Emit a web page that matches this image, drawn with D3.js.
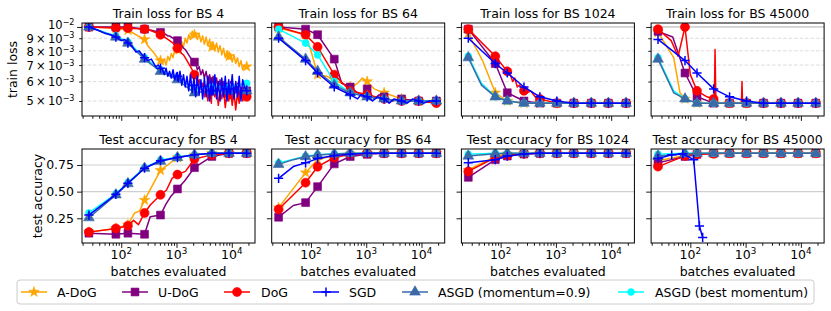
<!DOCTYPE html>
<html><head><meta charset="utf-8">
<script src="https://cdn.jsdelivr.net/npm/d3@7/dist/d3.min.js"></script>
<style>body{margin:0;background:#fff} svg{display:block} text{font-family:"DejaVu Sans",sans-serif;fill:#000}</style>
</head><body><svg id="c" width="831" height="311"></svg>
<script>
// ---------------- data ----------------
const batchSizes = ["4", "64", "1024", "45000"];
const methods = ["A-DoG", "U-DoG", "DoG", "SGD", "ASGD (momentum=0.9)", "ASGD (best momentum)"];
const colors = ["#FFA500", "#800080", "#FF0000", "#0000FF", "#3b6aa8", "#00FFFF"];
const markerTypes = ["star", "square", "circle", "plus", "triangle", "smallcircle"];
const xEval = [26, 80, 132, 264, 513, 1040, 2110, 4360, 8900, 18600];
const xTickVals = [100, 1000, 10000];
const lossTickVals = [0.01, 0.009, 0.008, 0.007, 0.006, 0.005];
const lossTickLabels = [["10", "\u22122"], ["9\u2009\u00d7\u200910", "\u22123"], ["8\u2009\u00d7\u200910", "\u22123"], ["7\u2009\u00d7\u200910", "\u22123"], ["6\u2009\u00d7\u200910", "\u22123"], ["5\u2009\u00d7\u200910", "\u22123"]];
const accTickVals = [0.25, 0.5, 0.75];
const accTickLabels = ["0.25", "0.50", "0.75"];

// train loss at xEval, rows: A-DoG, U-DoG, DoG, SGD, ASGD(0.9), ASGD(best)
const lossBS4 = [
  [.0100, .0099, .0097, .0089, .0073, .0081, .0093, .0083, .0076, .0069],
  [.0100, .0100, .0100, .0098, .0095, .0088, .0072, .0060, .0057, .0055],
  [.0100, .0099, .0099, .0098, .0093, .0082, .0064, .0055, .0053, .0052],
  [.0100, .0091, .0086, .0075, .0068, .0063, .0058, .0055, .0056, .0055],
  [.0100, .0091, .0086, .0074, .0066, .0061, .0054, .0055, .0055, .0055],
  [.0100, .0092, .0087, .0075, .0067, .0062, .0056, .0057, .0057, .0059]];
const lossBS64 = [
  [.0099, .0093, .0064, .0061, .0057, .0060, .0054, .0051, .0050, .0050],
  [.0100, .0098, .0093, .0074, .0057, .0056, .0052, .0051, .0050, .0050],
  [.0100, .0093, .0083, .0064, .0055, .0053, .0051, .0050, .0050, .0049],
  [.0090, .0073, .0065, .0057, .0053, .0052, .0051, .0050, .0050, .0050],
  [.0091, .0074, .0066, .0058, .0054, .0052, .0051, .0050, .0050, .0050],
  [.0098, .0086, .0077, .0060, .0054, .0052, .0051, .0050, .0050, .0050]];
const lossBS1024 = [
  [.0094, .0054, .0050, .0049, .0049, .0049, .0049, .0049, .0049, .0049],
  [.0098, .0071, .0054, .0050, .0049, .0049, .0049, .0049, .0049, .0049],
  [.0098, .0076, .0066, .0055, .0051, .0049, .0049, .0049, .0049, .0049],
  [.0090, .0071, .0065, .0057, .0052, .0050, .0049, .0049, .0049, .0049],
  [.0075, .0052, .0050, .0049, .0049, .0049, .0049, .0049, .0049, .0049],
  [.0076, .0052, .0050, .0049, .0049, .0049, .0049, .0049, .0049, .0049]];
const lossBS45000 = [
  [.0095, .0051, .0049, .0049, .0049, .0049, .0049, .0049, .0049, .0049],
  [.0096, .0065, .0052, .0049, .0049, .0049, .0049, .0049, .0049, .0049],
  [.0098, .0100, .0055, .0051, .0049, .0049, .0049, .0049, .0049, .0049],
  [.0089, .0073, .0065, .0056, .0052, .0050, .0049, .0049, .0049, .0049],
  [.0074, .0051, .0049, .0049, .0049, .0049, .0049, .0049, .0049, .0049],
  [.0075, .0051, .0049, .0049, .0049, .0049, .0049, .0049, .0049, .0049]];

// extra (unmarked) line points [x, y]
const lossExtraBS4 = [
  [[300, .0084], [380, .0079], [450, .0075]],
  [[350, .0097]],
  [[330, .0097], [420, .0095]],
  [[38, .0097], [52, .0094], [65, .0093], [100, .0088], [115, .0089], [160, .0083], [185, .0079], [210, .0080], [300, .0073], [350, .0074], [420, .0069], [470, .0070]],
  [], []];
const lossExtraBS64 = [
  [[100, .0080], [195, .0063], [700, .0059], [850, .0062], [1400, .0056], [1700, .0055]],
  [[360, .0059], [700, .0054], [850, .0052], [1400, .0051], [1700, .0053], [3000, .0050]],
  [],
  [[700, .0051], [800, .0053], [1300, .0050], [1600, .0052], [2600, .0049], [3200, .0051], [5500, .0049], [7000, .0051], [11000, .0049], [14000, .0050]],
  [], []];
const lossExtraBS1024 = [
  [[47, .0073], [61, .0063]],
  [],
  [[150, .0064], [165, .0060], [180, .0062], [200, .0057], [220, .0058], [300, .0054], [350, .0055], [420, .0052]],
  [],
  [[45, .0058]],
  [[45, .0059]]];
const lossExtraBS45000 = [
  [[50, .0075], [65, .0054]],
  [[48, .0091]],
  [[45, .0088], [60, .0076], [100, .0064], [200, .0052], [272, .0050], [280, .0081], [290, .0049], [840, .0049], [860, .0060], [880, .0049]],
  [],
  [[50, .0054]],
  [[50, .0055]]];

// dense noisy train-loss readings for BS 4 (A-DoG, U-DoG, DoG, SGD) on a log-spaced logging grid
const noiseGridStart = 560, noiseGridStep = 0.0315, noiseGridN = 48;
const noiseADoG4 = [.0071,.0074,.0070,.0076,.0073,.0078,.0075,.0081,.0078,.0084,.0080,.0087,.0083,.0090,.0086,.0093,.0089,.0096,.0091,.0095,.0089,.0094,.0087,.0092,.0085,.0091,.0084,.0089,.0081,.0087,.0080,.0086,.0079,.0084,.0077,.0082,.0075,.0080,.0074,.0078,.0072,.0077,.0071,.0075,.0069,.0073,.0067,.0070];
const noiseUDoG4 = [.0094,.0094,.0093,.0092,.0092,.0091,.0090,.0089,.0088,.0087,.0085,.0084,.0082,.0081,.0079,.0077,.0075,.0074,.0071,.0071,.0067,.0069,.0064,.0067,.0062,.0066,.0060,.0064,.0059,.0063,.0057,.0062,.0056,.0061,.0055,.0060,.0054,.0059,.0055,.0060,.0053,.0058,.0054,.0059,.0052,.0057,.0053,.0055];
const noiseDoG4 = [.0092,.0091,.0090,.0089,.0088,.0087,.0086,.0084,.0083,.0081,.0080,.0078,.0077,.0075,.0073,.0071,.0069,.0067,.0064,.0063,.0059,.0061,.0056,.0059,.0052,.0058,.0050,.0057,.0049,.0056,.0052,.0057,.0048,.0055,.0051,.0056,.0047,.0054,.0050,.0056,.0048,.0055,.0046,.0054,.0049,.0056,.0050,.0053];
const noiseSGD4 = [.0067,.0064,.0068,.0063,.0066,.0062,.0067,.0061,.0065,.0060,.0066,.0058,.0064,.0057,.0063,.0055,.0064,.0054,.0062,.0052,.0063,.0053,.0061,.0051,.0062,.0052,.0063,.0050,.0061,.0053,.0064,.0051,.0060,.0050,.0062,.0052,.0063,.0050,.0061,.0053,.0064,.0051,.0060,.0052,.0063,.0050,.0061,.0057];

// test accuracy at xEval
const accBS4 = [
  [.12, .155, .19, .42, .70, .82, .845, .86, .86, .86],
  [.11, .10, .11, .10, .28, .525, .725, .83, .86, .86],
  [.12, .155, .18, .30, .47, .66, .806, .845, .86, .86],
  [.28, .475, .578, .72, .79, .82, .845, .86, .86, .86],
  [.255, .47, .575, .72, .785, .82, .845, .86, .86, .86],
  [.30, .48, .585, .725, .795, .825, .845, .86, .86, .86]];
const accBS64 = [
  [.35, .678, .80, .84, .855, .86, .86, .86, .86, .86],
  [.26, .397, .547, .76, .83, .85, .86, .86, .86, .86],
  [.334, .584, .734, .82, .85, .86, .86, .86, .86, .86],
  [.625, .77, .81, .84, .85, .86, .86, .86, .86, .86],
  [.756, .828, .844, .853, .86, .86, .86, .86, .86, .86],
  [.77, .832, .846, .855, .86, .86, .86, .86, .86, .86]];
const accBS1024 = [
  [.703, .83, .855, .86, .86, .86, .86, .86, .86, .86],
  [.634, .80, .834, .853, .86, .86, .86, .86, .86, .86],
  [.69, .82, .84, .855, .86, .86, .86, .86, .86, .86],
  [.772, .80, .834, .853, .86, .86, .86, .86, .86, .86],
  [.834, .855, .86, .86, .86, .86, .86, .86, .86, .86],
  [.85, .86, .86, .86, .86, .86, .86, .86, .86, .86]];
const accBS45000 = [
  [.79, .84, .855, .86, .86, .86, .86, .86, .86, .86],
  [.77, .83, .85, .86, .86, .86, .86, .86, .86, .86],
  [.735, .835, .85, .855, .86, .86, .86, .86, .86, .86],
  null,
  [.834, .853, .86, .86, .86, .86, .86, .86, .86, .86],
  [.85, .86, .86, .86, .86, .86, .86, .86, .86, .86]];
const accSGD45000x = [26, 46, 73, 115, 146, 167];
const accSGD45000y = [.81, .845, .855, .80, .178, .07];

const accExtraBS4 = [
  [[175, .30], [215, .32]],
  [[334, .265], [640, .38], [800, .46], [1400, .60]],
  [[167, .23], [205, .19], [335, .375], [660, .515], [830, .625], [1450, .69]],
  [], [], []];
const accExtraBS64 = [[], [[48, .37]], [], [[48, .735]], [[48, .80]], []];
const accExtraBS1024 = [[], [], [], [], [], []];
const accExtraBS45000 = [[], [], [], [], [], []];

// ---------------- layout ----------------
const svg = d3.select("#c");
const defs = svg.append("defs");
const FS = 12.5;
const TFS = 11.5;
const panelW = 173;
const lefts = [82, 271.7, 461.4, 651.1];
const rowBox = [{top: 23, bot: 116}, {top: 149, bot: 243}];
const xDom = [Math.pow(10, 1.29), Math.pow(10, 4.42)];
const drawOrder = [0, 1, 2, 5, 4, 3];
const lossLabelDy = [2.4, 4.6, 5.2, 5.0, 4.6, 4.4];

const minorX = [];
[10, 100, 1000, 10000].forEach(d => { for (let k = 2; k <= 9; k++) { const v = k * d; if (v >= xDom[0] && v <= xDom[1]) minorX.push(v); } });

function markerPath(t) {
  switch (t) {
    case "star": return d3.symbol(d3.symbolStar, 34)();
    case "square": return d3.symbol(d3.symbolSquare, 62)();
    case "circle": return d3.symbol(d3.symbolCircle, 64)();
    case "triangle": return d3.symbol(d3.symbolTriangle, 50)();
    case "smallcircle": return d3.symbol(d3.symbolCircle, 38)();
    case "plus": return "M-4.6,0H4.6M0,-4.6V4.6";
  }
}
function drawMarker(g, t, color, px, py) {
  const p = g.append("path").attr("d", markerPath(t)).attr("transform", `translate(${px},${py})`);
  if (t === "plus") p.attr("fill", "none").attr("stroke", color).attr("stroke-width", 1.5);
  else p.attr("fill", color).attr("stroke", color).attr("stroke-width", 0.6);
}

function seriesFor(row, p, m) {
  const marks = row === 0 ? [lossBS4, lossBS64, lossBS1024, lossBS45000][p] : [accBS4, accBS64, accBS1024, accBS45000][p];
  const extras = row === 0 ? [lossExtraBS4, lossExtraBS64, lossExtraBS1024, lossExtraBS45000][p] : [accExtraBS4, accExtraBS64, accExtraBS1024, accExtraBS45000][p];
  if (row === 1 && p === 3 && m === 3) {
    const pts = accSGD45000x.map((x, i) => [x, accSGD45000y[i]]);
    return {line: pts, marks: pts};
  }
  const mk = xEval.map((x, i) => [x, marks[m][i]]);
  let pts = mk.concat(extras[m]);
  if (row === 0 && p === 0) {
    const noise = [noiseADoG4, noiseUDoG4, noiseDoG4, noiseSGD4, null, null][m];
    if (noise) {
      const grid = d3.range(noiseGridN).map(i => noiseGridStart * Math.pow(10, noiseGridStep * i));
      pts = pts.concat(noise.map((v, i) => [grid[i], v]));
    }
  }
  pts.sort((a, b) => a[0] - b[0]);
  return {line: pts, marks: mk};
}

function supLabel(g, x, y, anchor, base, sup, fs) {
  const t = g.append("text").attr("x", x).attr("y", y).attr("text-anchor", anchor).attr("font-size", fs);
  t.append("tspan").text(base);
  t.append("tspan").attr("dy", -fs * 0.38).attr("font-size", fs * 0.7).text(sup);
  return t;
}

[0, 1].forEach(row => {
  const {top, bot} = rowBox[row];
  batchSizes.forEach((bs, p) => {
    const L = lefts[p], R = L + panelW;
    const x = d3.scaleLog().domain(xDom).range([L, R]);
    const y = row === 0
      ? d3.scaleLog().domain([0.004345, 0.01038]).range([bot, top])
      : d3.scaleLinear().domain([0.018, 0.90]).range([bot, top]);
    const g = svg.append("g");

    // grid
    if (row === 0) {
      lossTickVals.forEach(v => {
        const major = v === 0.01;
        g.append("line").attr("x1", L).attr("x2", R).attr("y1", y(v)).attr("y2", y(v))
          .attr("stroke", major ? "#b0b0b0" : "#d8d8d8").attr("stroke-width", major ? 1 : 0.9)
          .attr("stroke-dasharray", major ? null : "3.5,2");
      });
    } else {
      accTickVals.forEach(v => {
        g.append("line").attr("x1", L).attr("x2", R).attr("y1", y(v)).attr("y2", y(v))
          .attr("stroke", "#cfcfcf").attr("stroke-width", 1.2);
      });
    }

    // data
    const cid = `clip${row}_${p}`;
    defs.append("clipPath").attr("id", cid).append("rect").attr("x", L).attr("y", top).attr("width", panelW).attr("height", bot - top);
    const dg = g.append("g").attr("clip-path", `url(#${cid})`);
    const lineGen = d3.line().x(d => x(d[0])).y(d => y(d[1]));
    drawOrder.forEach(m => {
      const s = seriesFor(row, p, m);
      dg.append("path").attr("d", lineGen(s.line)).attr("fill", "none").attr("stroke", colors[m])
        .attr("stroke-width", 1.5).attr("stroke-linejoin", "round");
      s.marks.forEach(d => drawMarker(dg, markerTypes[m], colors[m], x(d[0]), y(d[1])));
    });

    // x ticks
    const axMajor = d3.axisBottom(x).tickValues(xTickVals).tickSize(4.9).tickFormat(() => "");
    const axMinor = d3.axisBottom(x).tickValues(minorX).tickSize(2.8).tickFormat(() => "");
    [axMajor, axMinor].forEach(ax => {
      const a = g.append("g").attr("transform", `translate(0,${bot})`).call(ax);
      a.select(".domain").remove();
      a.selectAll("line").attr("stroke", "#000").attr("stroke-width", 0.9);
    });
    if (row === 1) {
      xTickVals.forEach(v => supLabel(g, x(v), bot + 16.2, "middle", "10", String(Math.round(Math.log10(v))), FS));
      g.append("text").attr("x", (L + R) / 2).attr("y", 276).attr("text-anchor", "middle").attr("font-size", FS).text("batches evaluated");
    }

    // y ticks
    if (row === 0) {
      const aMaj = d3.axisLeft(y).tickValues([0.01]).tickSize(4.9).tickFormat(() => "");
      const aMin = d3.axisLeft(y).tickValues(lossTickVals.slice(1)).tickSize(2.8).tickFormat(() => "");
      [aMaj, aMin].forEach(ax => {
        const a = g.append("g").attr("transform", `translate(${L},0)`).call(ax);
        a.select(".domain").remove();
        a.selectAll("line").attr("stroke", "#000").attr("stroke-width", 0.9);
      });
      if (p === 0) {
        lossTickVals.forEach((v, i) => supLabel(g, L - 7.5, y(v) + lossLabelDy[i], "end", lossTickLabels[i][0], lossTickLabels[i][1], TFS));
        g.append("text").attr("transform", `translate(17,${(top + bot) / 2}) rotate(-90)`).attr("text-anchor", "middle").attr("font-size", FS).text("train loss");
      }
    } else {
      const a = g.append("g").attr("transform", `translate(${L},0)`).call(d3.axisLeft(y).tickValues(accTickVals).tickSize(4.9).tickFormat(() => ""));
      a.select(".domain").remove();
      a.selectAll("line").attr("stroke", "#000").attr("stroke-width", 0.9);
      if (p === 0) {
        accTickVals.forEach((v, i) => g.append("text").attr("x", L - 8).attr("y", y(v) + 4.5).attr("text-anchor", "end").attr("font-size", FS).text(accTickLabels[i]));
        g.append("text").attr("transform", `translate(42,${(top + bot) / 2}) rotate(-90)`).attr("text-anchor", "middle").attr("font-size", FS).text("test accuracy");
      }
    }

    // spines
    g.append("rect").attr("x", L).attr("y", top).attr("width", panelW).attr("height", bot - top)
      .attr("fill", "none").attr("stroke", "#000").attr("stroke-width", 1);

    // title
    g.append("text").attr("x", (L + R) / 2).attr("y", row === 0 ? 17.5 : 144).attr("text-anchor", "middle").attr("font-size", FS)
      .text((row === 0 ? "Train loss for BS " : "Test accuracy for BS ") + bs);
  });
});

// ---------------- legend ----------------
const lg = svg.append("g");
lg.append("rect").attr("x", 17).attr("y", 280).attr("width", 797).attr("height", 24).attr("rx", 3)
  .attr("fill", "#fff").attr("stroke", "#cccccc").attr("stroke-width", 1);
const legLineX = [21, 122, 224, 313, 402, 618];
const legTextX = [57, 158, 261, 349, 438, 655];
methods.forEach((name, m) => {
  const x0 = legLineX[m], x1 = x0 + 26, cy = 292;
  lg.append("line").attr("x1", x0).attr("x2", x1).attr("y1", cy).attr("y2", cy).attr("stroke", colors[m]).attr("stroke-width", 1.5);
  drawMarker(lg, markerTypes[m], colors[m], (x0 + x1) / 2, cy);
  lg.append("text").attr("x", legTextX[m]).attr("y", cy + 4.5).attr("font-size", FS).text(name);
});
</script></body></html>
